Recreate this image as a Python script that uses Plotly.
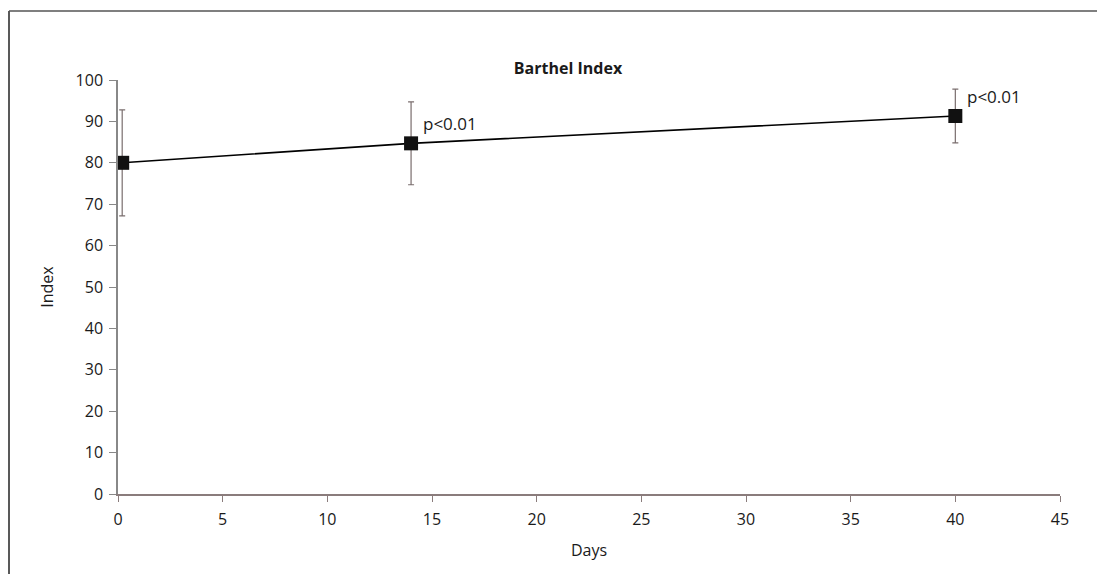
import plotly.graph_objects as go

days = [0.2, 14, 40]
index_mean = [80, 84.7, 91.3]
index_err = [12.8, 10.0, 6.5]
p_labels = ["", "p<0.01", "p<0.01"]
p_y = [None, 89.5, 96.0]
x_ticks = [0, 5, 10, 15, 20, 25, 30, 35, 40, 45]
y_ticks = [0, 10, 20, 30, 40, 50, 60, 70, 80, 90, 100]

FONT = "Open Sans"
L, R, T, B = 110, 53, 72, 88
W, H = 1105, 574
pw, ph = W - L - R, H - T - B

fig = go.Figure()
fig.add_trace(go.Scatter(
    x=days, y=index_mean, mode="lines+markers",
    line=dict(color="black", width=1.6),
    marker=dict(symbol="square", size=14, color="#111111"),
    error_y=dict(type="data", array=index_err, visible=True,
                 color="#7a6e6e", thickness=1.2, width=3),
    showlegend=False,
))
for x, y, t in zip(days, p_y, p_labels):
    if t:
        fig.add_annotation(x=x, y=y, text=t, showarrow=False,
                           xanchor="left", xshift=10,
                           font=dict(family=FONT, size=17, color="#1a1a1a"))

fig.update_layout(
    width=W, height=H,
    margin=dict(l=L, r=R, t=T, b=B),
    paper_bgcolor="white", plot_bgcolor="white",
    title=dict(text="<b>Barthel Index</b>", x=560 / W, xanchor="center",
               y=1 - 60 / H, yanchor="middle",
               font=dict(family=FONT, size=16, color="#1a1a1a")),
    font=dict(family=FONT, size=16, color="#1a1a1a"),
    xaxis=dict(range=[0, 45], tickvals=x_ticks, showgrid=False, zeroline=False,
               showline=True, linecolor="#8a7c7c", linewidth=1.5,
               ticks="outside", ticklen=6, tickcolor="#8a7c7c",
               ticklabelstandoff=4,
               title=dict(text="Days", standoff=16, font=dict(size=16))),
    yaxis=dict(range=[0, 100], tickvals=y_ticks, showgrid=False, zeroline=False,
               showline=True, linecolor="#888888", linewidth=1.5,
               ticks="outside", ticklen=7, tickcolor="#888888",
               ticklabelstandoff=3,
               title=dict(text="Index", standoff=18, font=dict(size=16))),
)
# frame border (left and top lines)
fx = (1 - L) / pw
fy = (H - B - 3) / ph
fig.add_shape(type="line", xref="paper", yref="paper",
              x0=fx, x1=fx, y0=-0.3, y1=fy,
              line=dict(color="#222222", width=1.5))
fig.add_shape(type="line", xref="paper", yref="paper",
              x0=fx, x1=1.2, y0=fy, y1=fy,
              line=dict(color="#555555", width=1.5))
fig.write_html("out.html")
